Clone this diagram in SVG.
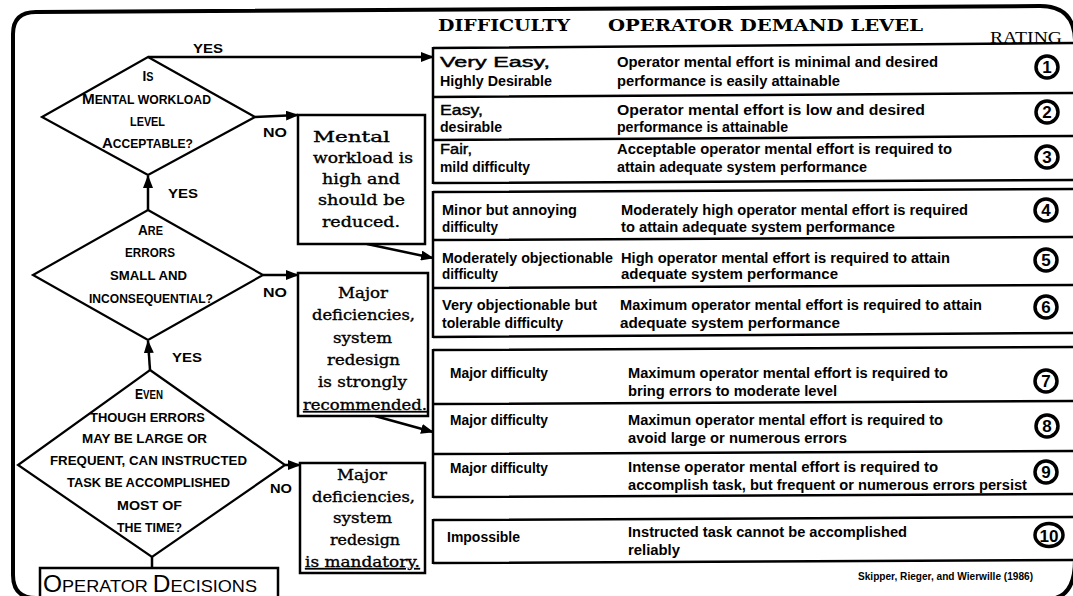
<svg xmlns="http://www.w3.org/2000/svg" width="1073" height="596" viewBox="0 0 1073 596">
<defs>
<marker id="ah" markerUnits="userSpaceOnUse" markerWidth="13" markerHeight="10" refX="12" refY="5" orient="auto"><path d="M0,0 L13,5 L0,10 z" fill="#000"/></marker>
<style>
.ln{stroke:#000;stroke-width:2.5;fill:none}
.fr{stroke:#000;stroke-width:4;fill:none}
.rl{stroke:#000;stroke-width:2.5;fill:none}
.dm{stroke:#000;stroke-width:2.2;fill:#fff}
.bx{stroke:#000;stroke-width:2.5;fill:#fff}
.t{font-family:"Liberation Sans",Arial,sans-serif;font-weight:bold;font-size:14px;fill:#000}
.nw{font-weight:normal;stroke:#000;stroke-width:0.4}
.d{font-family:"Liberation Sans",Arial,sans-serif;font-weight:bold;font-size:12px;fill:#000;text-anchor:middle}
.big{font-size:15px}
.s{font-family:"DejaVu Serif","Liberation Serif",serif;font-size:14.5px;fill:#000;stroke:#000;stroke-width:0.35;text-anchor:middle}
.h{font-family:"DejaVu Serif","Liberation Serif",serif;font-weight:bold;font-size:16px;fill:#000}
.lb{font-family:"Liberation Sans",Arial,sans-serif;font-weight:bold;font-size:13px;fill:#000}
.rc{stroke:#000;stroke-width:3.5;fill:#fff}
.rn{font-family:"Liberation Sans",Arial,sans-serif;font-weight:bold;font-size:17px;fill:#000;text-anchor:middle}
</style>
</defs>
<rect width="1073" height="596" fill="#fff"/>
<path class="fr" d="M36 598 Q13 598 13 575 L13 34 Q13 12 36 12 L1040 6 Q1074 6 1075 40 L1075 560 Q1075 597 1050 599"/>

<g id="headers">
<text class="h" x="438" y="31" textLength="132" lengthAdjust="spacingAndGlyphs">DIFFICULTY</text>
<text class="h" x="608" y="31" textLength="315" lengthAdjust="spacingAndGlyphs">OPERATOR DEMAND LEVEL</text>
<text x="990" y="43" font-family="Liberation Serif,serif" font-size="16" textLength="72" lengthAdjust="spacingAndGlyphs">RATING</text>
</g>

<g id="table-lines">
<path class="rl" d="M433 48 L1075 43 M433 97 L1075 93 M433 140 L1075 136 M433 183 L1075 180 M433 47 V184"/>
<path class="rl" d="M433 192 L1075 189 M433 240 L1075 237 M433 288 L1075 285 M433 337 L1075 333 M433 191 V338"/>
<path class="rl" d="M433 350 L1075 347 M433 404 L1075 401 M433 454 L1075 451 M433 497 L1075 494 M433 349 V498"/>
<path class="rl" d="M433 520 L1075 517 M433 563 L1075 560 M433 519 V564"/>
</g>

<g id="row1">
<text class="t nw" x="440" y="67" textLength="110" lengthAdjust="spacingAndGlyphs">Very Easy,</text>
<text class="t" x="440" y="86" textLength="112" lengthAdjust="spacingAndGlyphs">Highly Desirable</text>
<text class="t" x="617" y="67" textLength="321" lengthAdjust="spacingAndGlyphs">Operator mental effort is minimal and desired</text>
<text class="t" x="617" y="86" textLength="223" lengthAdjust="spacingAndGlyphs">performance is easily attainable</text>
<circle class="rc" cx="1047" cy="67" r="11"/><text class="rn" x="1047" y="73">1</text>
</g>
<g id="row2">
<text class="t nw" x="440" y="115" textLength="43" lengthAdjust="spacingAndGlyphs">Easy,</text>
<text class="t" x="440" y="132" textLength="62" lengthAdjust="spacingAndGlyphs">desirable</text>
<text class="t" x="617" y="115" textLength="308" lengthAdjust="spacingAndGlyphs">Operator mental effort is low and desired</text>
<text class="t" x="617" y="132" textLength="171" lengthAdjust="spacingAndGlyphs">performance is attainable</text>
<circle class="rc" cx="1047" cy="112" r="11"/><text class="rn" x="1047" y="118">2</text>
</g>
<g id="row3">
<text class="t nw" x="440" y="154" textLength="32" lengthAdjust="spacingAndGlyphs">Fair,</text>
<text class="t" x="440" y="172" textLength="90" lengthAdjust="spacingAndGlyphs">mild difficulty</text>
<text class="t" x="617" y="154" textLength="335" lengthAdjust="spacingAndGlyphs">Acceptable operator mental effort is required to</text>
<text class="t" x="617" y="172" textLength="250" lengthAdjust="spacingAndGlyphs">attain adequate system performance</text>
<circle class="rc" cx="1047" cy="157" r="11"/><text class="rn" x="1047" y="163">3</text>
</g>
<g id="row4">
<text class="t" x="442" y="215" textLength="135" lengthAdjust="spacingAndGlyphs">Minor but  annoying</text>
<text class="t" x="442" y="232" textLength="56" lengthAdjust="spacingAndGlyphs">difficulty</text>
<text class="t" x="621" y="215" textLength="347" lengthAdjust="spacingAndGlyphs">Moderately high operator mental effort is required</text>
<text class="t" x="621" y="232" textLength="274" lengthAdjust="spacingAndGlyphs">to attain adequate system performance</text>
<circle class="rc" cx="1046" cy="210" r="11"/><text class="rn" x="1046" y="216">4</text>
</g>
<g id="row5">
<text class="t" x="442" y="263" textLength="171" lengthAdjust="spacingAndGlyphs">Moderately objectionable</text>
<text class="t" x="442" y="279" textLength="56" lengthAdjust="spacingAndGlyphs">difficulty</text>
<text class="t" x="621" y="263" textLength="329" lengthAdjust="spacingAndGlyphs">High operator mental effort is required to attain</text>
<text class="t" x="621" y="279" textLength="217" lengthAdjust="spacingAndGlyphs">adequate system performance</text>
<circle class="rc" cx="1046" cy="260" r="11"/><text class="rn" x="1046" y="266">5</text>
</g>
<g id="row6">
<text class="t" x="442" y="310" textLength="155" lengthAdjust="spacingAndGlyphs">Very objectionable but</text>
<text class="t" x="442" y="328" textLength="121" lengthAdjust="spacingAndGlyphs">tolerable difficulty</text>
<text class="t" x="620" y="310" textLength="362" lengthAdjust="spacingAndGlyphs">Maximum operator mental effort is required to attain</text>
<text class="t" x="620" y="328" textLength="220" lengthAdjust="spacingAndGlyphs">adequate system performance</text>
<circle class="rc" cx="1046" cy="307" r="11"/><text class="rn" x="1046" y="313">6</text>
</g>
<g id="row7">
<text class="t" x="450" y="378" textLength="98" lengthAdjust="spacingAndGlyphs">Major difficulty</text>
<text class="t" x="628" y="378" textLength="320" lengthAdjust="spacingAndGlyphs">Maximum operator mental effort is required to</text>
<text class="t" x="628" y="396" textLength="209" lengthAdjust="spacingAndGlyphs">bring errors to moderate level</text>
<circle class="rc" cx="1046" cy="381" r="11"/><text class="rn" x="1046" y="387">7</text>
</g>
<g id="row8">
<text class="t" x="450" y="425" textLength="98" lengthAdjust="spacingAndGlyphs">Major difficulty</text>
<text class="t" x="628" y="425" textLength="315" lengthAdjust="spacingAndGlyphs">Maximun operator mental effort is required to</text>
<text class="t" x="628" y="443" textLength="219" lengthAdjust="spacingAndGlyphs">avoid large or numerous errors</text>
<circle class="rc" cx="1047" cy="426" r="11"/><text class="rn" x="1047" y="432">8</text>
</g>
<g id="row9">
<text class="t" x="450" y="473" textLength="98" lengthAdjust="spacingAndGlyphs">Major difficulty</text>
<text class="t" x="628" y="472" textLength="310" lengthAdjust="spacingAndGlyphs">Intense operator mental effort  is required to</text>
<text class="t" x="628" y="490" textLength="399" lengthAdjust="spacingAndGlyphs">accomplish task, but frequent or numerous errors persist</text>
<circle class="rc" cx="1046" cy="472" r="11"/><text class="rn" x="1046" y="478">9</text>
</g>
<g id="row10">
<text class="t" x="447" y="542" textLength="73" lengthAdjust="spacingAndGlyphs">Impossible</text>
<text class="t" x="628" y="537" textLength="279" lengthAdjust="spacingAndGlyphs">Instructed task cannot be accomplished</text>
<text class="t" x="628" y="555" textLength="52" lengthAdjust="spacingAndGlyphs">reliably</text>
<ellipse class="rc" cx="1049" cy="535" rx="14" ry="11.5"/><text class="rn" x="1049" y="541.5" textLength="19" lengthAdjust="spacingAndGlyphs">10</text>
</g>

<g id="connectors">
<path class="ln" d="M148 57 H433" marker-end="url(#ah)"/>
<path class="ln" d="M255 117 L298 115" marker-end="url(#ah)"/>
<path class="ln" d="M367 244 L433 258" marker-end="url(#ah)"/>
<path class="ln" d="M148 210 V176" marker-end="url(#ah)"/>
<path class="ln" d="M263 275 H298" marker-end="url(#ah)"/>
<path class="ln" d="M375 416 L433 432" marker-end="url(#ah)"/>
<path class="ln" d="M150 370 L148 341" marker-end="url(#ah)"/>
<path class="ln" d="M285 465 H300" marker-end="url(#ah)"/>
<path class="ln" d="M152 557 V568"/>
<text class="lb" x="193" y="53" textLength="30" lengthAdjust="spacingAndGlyphs">YES</text>
<text class="lb" x="263" y="137" textLength="24" lengthAdjust="spacingAndGlyphs">NO</text>
<text class="lb" x="168" y="198" textLength="30" lengthAdjust="spacingAndGlyphs">YES</text>
<text class="lb" x="263" y="297" textLength="24" lengthAdjust="spacingAndGlyphs">NO</text>
<text class="lb" x="172" y="362" textLength="30" lengthAdjust="spacingAndGlyphs">YES</text>
<text class="lb" x="270" y="493" textLength="22" lengthAdjust="spacingAndGlyphs">NO</text>
</g>

<g id="decision1">
<polygon class="dm" points="148,57 255,117 148,175 42,117"/>
<text class="d" x="148" y="81" textLength="11" lengthAdjust="spacingAndGlyphs"><tspan class="big">I</tspan>S</text>
<text class="d" x="146.5" y="104" textLength="129" lengthAdjust="spacingAndGlyphs"><tspan class="big">M</tspan>ENTAL WORKLOAD</text>
<text class="d" x="147.5" y="126" textLength="35" lengthAdjust="spacingAndGlyphs">LEVEL</text>
<text class="d" x="147.5" y="148" textLength="91" lengthAdjust="spacingAndGlyphs"><tspan class="big">A</tspan>CCEPTABLE?</text>
</g>
<g id="decision2">
<polygon class="dm" points="148,210 263,275 148,340 33,275"/>
<text class="d" x="150.5" y="235" textLength="25" lengthAdjust="spacingAndGlyphs"><tspan class="big">A</tspan>RE</text>
<text class="d" x="150" y="257" textLength="50" lengthAdjust="spacingAndGlyphs">ERRORS</text>
<text class="d" x="148.5" y="280" textLength="77" lengthAdjust="spacingAndGlyphs">SMALL AND</text>
<text class="d" x="151" y="303" textLength="124" lengthAdjust="spacingAndGlyphs">INCONSEQUENTIAL?</text>
</g>
<g id="decision3">
<polygon class="dm" points="150,370 285,465 152,557 18,465"/>
<text class="d" x="149" y="399" textLength="28" lengthAdjust="spacingAndGlyphs"><tspan class="big">E</tspan>VEN</text>
<text class="d" x="147.5" y="422" textLength="115" lengthAdjust="spacingAndGlyphs">THOUGH ERRORS</text>
<text class="d" x="144.5" y="443" textLength="125" lengthAdjust="spacingAndGlyphs">MAY BE LARGE OR</text>
<text class="d" x="148.5" y="465" textLength="197" lengthAdjust="spacingAndGlyphs">FREQUENT, CAN INSTRUCTED</text>
<text class="d" x="148.5" y="487" textLength="163" lengthAdjust="spacingAndGlyphs">TASK BE ACCOMPLISHED</text>
<text class="d" x="149.5" y="510" textLength="65" lengthAdjust="spacingAndGlyphs">MOST OF</text>
<text class="d" x="149.5" y="532" textLength="65" lengthAdjust="spacingAndGlyphs">THE TIME?</text>
</g>

<g id="box-mental-workload">
<rect class="bx" x="298" y="115" width="127" height="129"/>
<text class="s" x="351.5" y="142" textLength="77" lengthAdjust="spacingAndGlyphs">Mental</text>
<text class="s" x="363" y="163" textLength="100" lengthAdjust="spacingAndGlyphs">workload is</text>
<text class="s" x="361" y="184" textLength="78" lengthAdjust="spacingAndGlyphs">high and</text>
<text class="s" x="361.5" y="205" textLength="87" lengthAdjust="spacingAndGlyphs">should be</text>
<text class="s" x="361" y="227" textLength="78" lengthAdjust="spacingAndGlyphs">reduced.</text>
</g>
<g id="box-strongly-recommended">
<rect class="bx" x="298" y="273" width="130" height="143"/>
<text class="s" x="363" y="298" textLength="50" lengthAdjust="spacingAndGlyphs">Major</text>
<text class="s" x="363.5" y="320" textLength="103" lengthAdjust="spacingAndGlyphs">deficiencies,</text>
<text class="s" x="362.5" y="343" textLength="59" lengthAdjust="spacingAndGlyphs">system</text>
<text class="s" x="363.5" y="365" textLength="73" lengthAdjust="spacingAndGlyphs">redesign</text>
<text class="s" x="362.5" y="387" textLength="89" lengthAdjust="spacingAndGlyphs">is strongly</text>
<text class="s" x="365" y="410" textLength="124" lengthAdjust="spacingAndGlyphs" text-decoration="underline">recommended.</text>
</g>
<g id="box-mandatory">
<rect class="bx" x="300" y="463" width="125" height="110"/>
<text class="s" x="362" y="480" textLength="50" lengthAdjust="spacingAndGlyphs">Major</text>
<text class="s" x="363.5" y="502" textLength="103" lengthAdjust="spacingAndGlyphs">deficiencies,</text>
<text class="s" x="362.5" y="523" textLength="59" lengthAdjust="spacingAndGlyphs">system</text>
<text class="s" x="365" y="545" textLength="70" lengthAdjust="spacingAndGlyphs">redesign</text>
<text class="s" x="362.5" y="567" textLength="115" lengthAdjust="spacingAndGlyphs" text-decoration="underline">is mandatory.</text>
</g>

<g id="operator-decisions">
<rect class="bx" x="40" y="568" width="238" height="40"/>
<text x="43" y="592" font-family="Liberation Sans,Arial,sans-serif" font-size="17" textLength="214" lengthAdjust="spacingAndGlyphs"><tspan font-size="23">O</tspan>PERATOR <tspan font-size="23">D</tspan>ECISIONS</text>
</g>

<g id="citation">
<text x="858" y="580" font-family="Liberation Sans,Arial,sans-serif" font-weight="bold" font-size="10" textLength="175" lengthAdjust="spacingAndGlyphs">Skipper, Rieger, and Wierwille (1986)</text>
</g>
</svg>
